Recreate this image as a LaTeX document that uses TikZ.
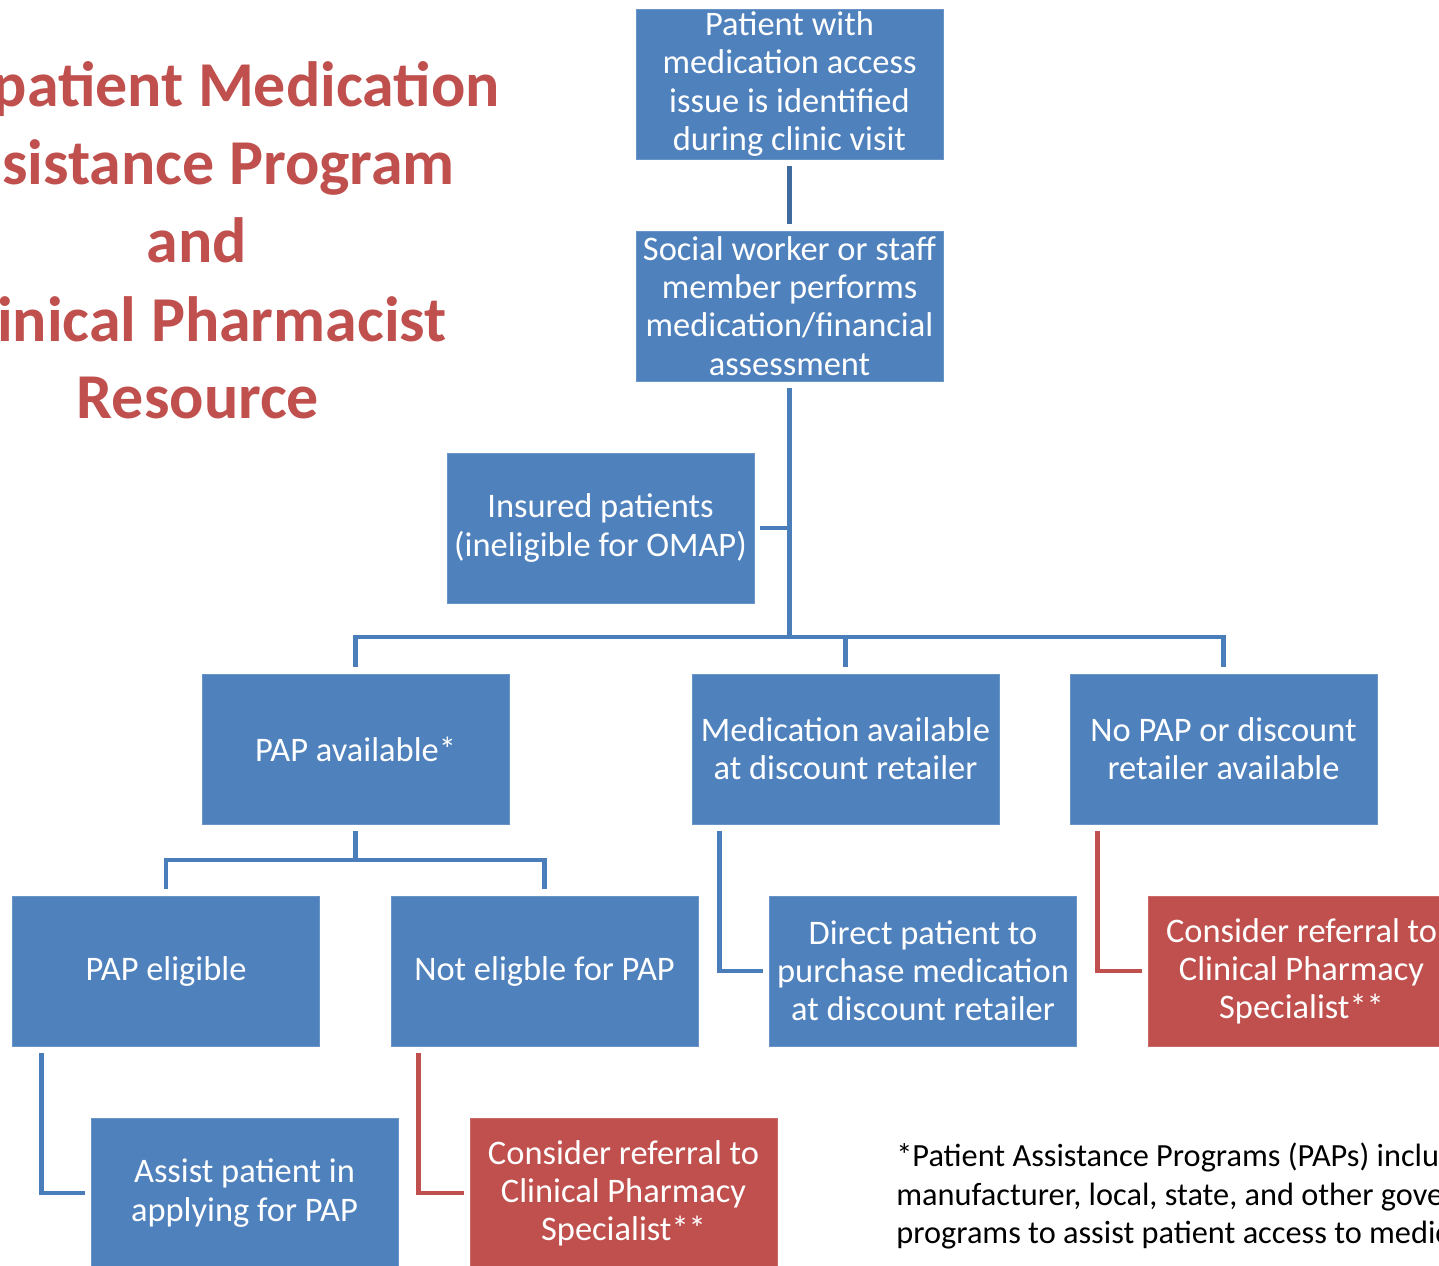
\documentclass[tikz,border=0pt]{standalone}
\usepackage{fontspec}
\setmainfont{Carlito}
\definecolor{boxblue}{HTML}{4F81BD}
\definecolor{boxred}{HTML}{C0504D}
\definecolor{lineblue}{HTML}{4A7EBB}

\begin{document}
\begin{tikzpicture}[x=0.02cm, y=-0.02cm,
  box/.style={fill=boxblue, draw=boxblue!85!white, line width=0.5pt,
    text=white, minimum width=6.14cm, minimum height=3cm, inner sep=0pt,
    align=center, font=\fontsize{19.6}{21.7}\selectfont},
  redbox/.style={box, fill=boxred, draw=boxred!85!white},
  conn/.style={draw=lineblue, line width=2.8pt},
  redconn/.style={conn, draw=boxred},
  title/.style={text=boxred, inner sep=0pt,
    font=\fontsize{36.4}{43}\selectfont\bfseries}]
  \useasboundingbox (0,0) rectangle (1439,1266);
  % Title (cut off at the left edge)
  \node[title, anchor=base east] (t1) at (500,107) {patient Medication};
  \node[title, anchor=base east] (t2) at (455,185) {sistance Program};
  \node[title, anchor=base] (t3) at (197,263) {and};
  \node[title, anchor=base east] (t4) at (447,342) {inical Pharmacist};
  \node[title, anchor=base] (t5) at (198,419) {Resource};
  % Top of the tree
  \node[box] (visit) at (789.5,84)
    {Patient with\\medication access\\issue is identified\\during clinic visit};
  \node[box] (assess) at (789.5,306)
    {Social worker or staff\\member performs\\medication/financial\\assessment};
  \node[box] (insured) at (600.5,528) {Insured patients\\(ineligible for OMAP)};
  % Three branches
  \node[box] (pap) at (355.5,749) {PAP available*};
  \node[box] (discount) at (845.5,749) {Medication available\\at discount retailer};
  \node[box] (nopap) at (1223.5,749) {No PAP or discount\\retailer available};
  % Second row
  \node[box] (eligible) at (166,971) {PAP eligible};
  \node[box] (noteligible) at (544.5,971) {Not eligble for PAP};
  \node[box] (direct) at (923,971)
    {Direct patient to\\purchase medication\\at discount retailer};
  \node[redbox] (referright) at (1301.5,971)
    {Consider referral to\\Clinical Pharmacy\\Specialist**};
  % Third row
  \node[box] (assist) at (244.5,1193) {Assist patient in\\applying for PAP};
  \node[redbox] (referleft) at (623.5,1193)
    {Consider referral to\\Clinical Pharmacy\\Specialist**};
  % Footnote (cut off at the right edge)
  \node[anchor=west, align=left, inner sep=0pt,
    font=\fontsize{18.4}{22}\selectfont] (note) at (896,1196)
    {*Patient Assistance Programs (PAPs) inclu\\
     manufacturer, local, state, and other gove\\
     programs to assist patient access to medic};
  % Bus coordinates
  \coordinate (bus) at (789.5,637);
  \coordinate (papbus) at (355.5,860);
  % Connectors
  \draw[conn, draw=lineblue!85!black, shorten <=0.14cm, shorten >=0.14cm]
    (visit) -- (assess);
  \draw[conn, shorten <=0.14cm] (assess.south) -- (bus);
  \draw[conn, shorten <=0.12cm] (insured.east) -- (insured.east -| assess.south);
  \draw[conn, shorten <=0.14cm, shorten >=0.14cm]
    (pap.north) |- (bus) -| (nopap.north);
  \draw[conn, shorten <=0.14cm] (discount.north) -- (discount.north |- bus);
  \draw[conn, shorten <=0.14cm] (pap.south) -- (papbus);
  \draw[conn, shorten <=0.14cm, shorten >=0.14cm]
    (eligible.north) |- (papbus) -| (noteligible.north);
  \draw[conn, shorten <=0.14cm, shorten >=0.12cm]
    ([xshift=0.56cm]discount.south west) |- (direct.west);
  \draw[redconn, shorten <=0.14cm, shorten >=0.12cm]
    ([xshift=0.56cm]nopap.south west) |- (referright.west);
  \draw[conn, shorten <=0.14cm, shorten >=0.12cm]
    ([xshift=0.58cm]eligible.south west) |- (assist.west);
  \draw[redconn, shorten <=0.14cm, shorten >=0.12cm]
    ([xshift=0.56cm]noteligible.south west) |- (referleft.west);
\end{tikzpicture}
\end{document}
